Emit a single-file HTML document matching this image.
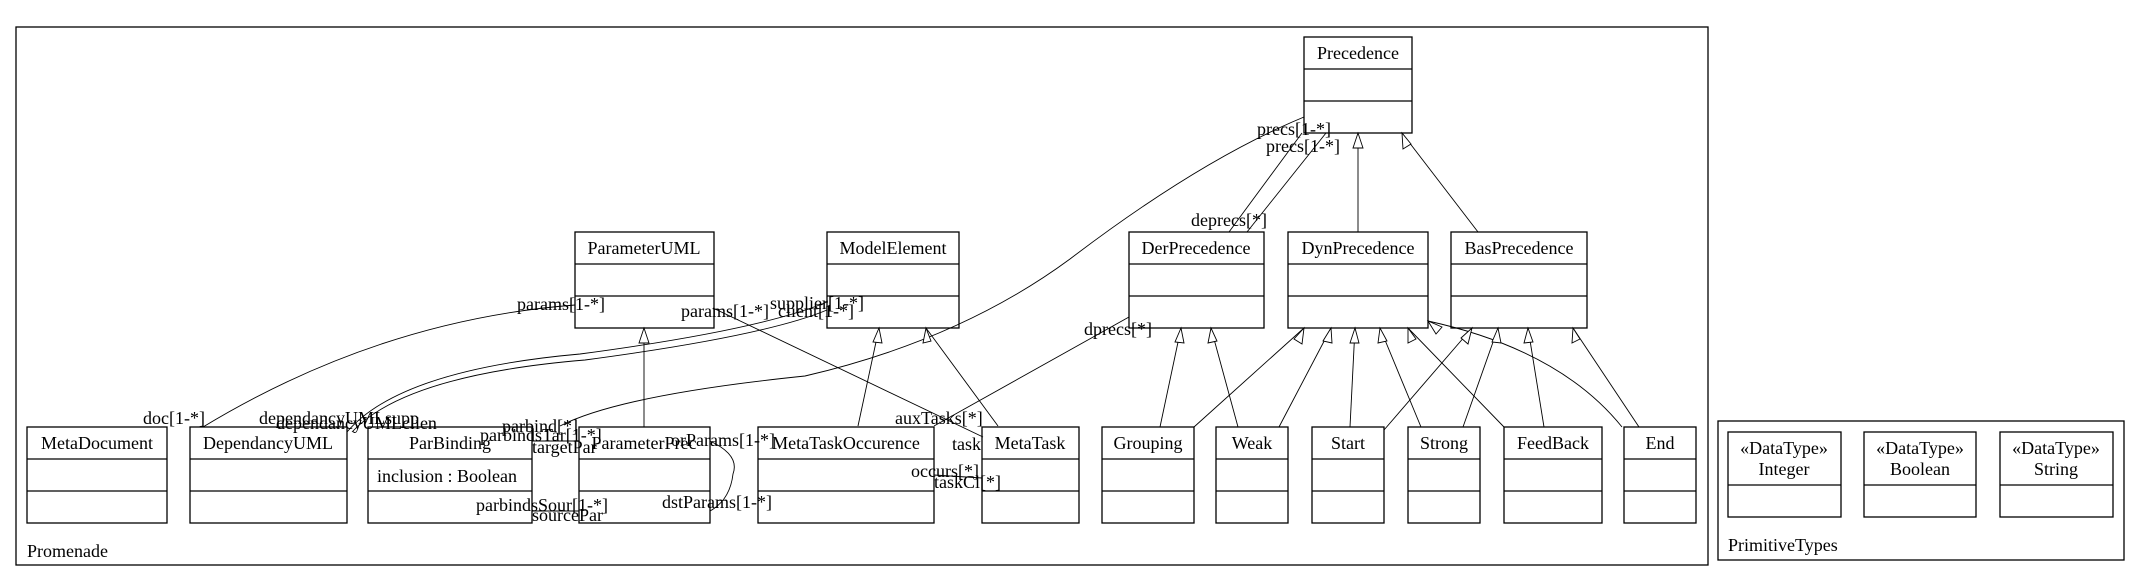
<!DOCTYPE html>
<html><head><meta charset="utf-8"><style>
html,body{margin:0;padding:0;background:#fff;}
svg{display:block;}
text{font-family:"Liberation Serif",serif;font-size:18px;fill:#000;}
</style></head><body>
<svg width="2139" height="581" viewBox="0 0 2139 581" xmlns="http://www.w3.org/2000/svg">
<g fill="none" stroke="#000" stroke-width="1.3">
<rect x="16" y="27" width="1692" height="538"/>
<rect x="1718" y="421" width="406" height="139"/>
<!-- classes bottom row -->
<rect x="27" y="427" width="140" height="96"/><line x1="27" y1="459" x2="167" y2="459"/><line x1="27" y1="491" x2="167" y2="491"/>
<rect x="190" y="427" width="157" height="96"/><line x1="190" y1="459" x2="347" y2="459"/><line x1="190" y1="491" x2="347" y2="491"/>
<rect x="368" y="427" width="164" height="96"/><line x1="368" y1="459" x2="532" y2="459"/><line x1="368" y1="491" x2="532" y2="491"/>
<rect x="579" y="427" width="131" height="96"/><line x1="579" y1="459" x2="710" y2="459"/><line x1="579" y1="491" x2="710" y2="491"/>
<rect x="758" y="427" width="176" height="96"/><line x1="758" y1="459" x2="934" y2="459"/><line x1="758" y1="491" x2="934" y2="491"/>
<rect x="982" y="427" width="97" height="96"/><line x1="982" y1="459" x2="1079" y2="459"/><line x1="982" y1="491" x2="1079" y2="491"/>
<rect x="1102" y="427" width="92" height="96"/><line x1="1102" y1="459" x2="1194" y2="459"/><line x1="1102" y1="491" x2="1194" y2="491"/>
<rect x="1216" y="427" width="72" height="96"/><line x1="1216" y1="459" x2="1288" y2="459"/><line x1="1216" y1="491" x2="1288" y2="491"/>
<rect x="1312" y="427" width="72" height="96"/><line x1="1312" y1="459" x2="1384" y2="459"/><line x1="1312" y1="491" x2="1384" y2="491"/>
<rect x="1408" y="427" width="72" height="96"/><line x1="1408" y1="459" x2="1480" y2="459"/><line x1="1408" y1="491" x2="1480" y2="491"/>
<rect x="1504" y="427" width="98" height="96"/><line x1="1504" y1="459" x2="1602" y2="459"/><line x1="1504" y1="491" x2="1602" y2="491"/>
<rect x="1624" y="427" width="72" height="96"/><line x1="1624" y1="459" x2="1696" y2="459"/><line x1="1624" y1="491" x2="1696" y2="491"/>
<!-- middle row -->
<rect x="575" y="232" width="139" height="96"/><line x1="575" y1="264" x2="714" y2="264"/><line x1="575" y1="296" x2="714" y2="296"/>
<rect x="827" y="232" width="132" height="96"/><line x1="827" y1="264" x2="959" y2="264"/><line x1="827" y1="296" x2="959" y2="296"/>
<rect x="1129" y="232" width="135" height="96"/><line x1="1129" y1="264" x2="1264" y2="264"/><line x1="1129" y1="296" x2="1264" y2="296"/>
<rect x="1288" y="232" width="140" height="96"/><line x1="1288" y1="264" x2="1428" y2="264"/><line x1="1288" y1="296" x2="1428" y2="296"/>
<rect x="1451" y="232" width="136" height="96"/><line x1="1451" y1="264" x2="1587" y2="264"/><line x1="1451" y1="296" x2="1587" y2="296"/>
<!-- top -->
<rect x="1304" y="37" width="108" height="96"/><line x1="1304" y1="69" x2="1412" y2="69"/><line x1="1304" y1="101" x2="1412" y2="101"/>
<!-- primitive types -->
<rect x="1728" y="432" width="113" height="85"/><line x1="1728" y1="485" x2="1841" y2="485"/>
<rect x="1864" y="432" width="112" height="85"/><line x1="1864" y1="485" x2="1976" y2="485"/>
<rect x="2000" y="432" width="113" height="85"/><line x1="2000" y1="485" x2="2113" y2="485"/>
</g>
<!-- connectors -->
<g fill="none" stroke="#000" stroke-width="0.9">
<path d="M203,427 Q380,320 575,305"/>
<path d="M347,432 Q400,370 580,354 Q760,330 827,302"/>
<path d="M352,432 Q405,375 585,360 Q765,336 827,310"/>
<path d="M560,426 Q620,395 805,376 Q960,340 1070,259 Q1200,160 1304,117"/>
<path d="M934,426 L1129,317"/>
<path d="M713,308 L983,437"/>
<line x1="644" y1="427" x2="644" y2="328"/>
<line x1="858" y1="426" x2="879" y2="328"/>
<line x1="998" y1="426" x2="926" y2="328"/>
<path d="M710,441 Q740,455 733,474 Q730,500 710,511"/>
<line x1="532" y1="441" x2="579" y2="441"/>
<line x1="532" y1="511" x2="579" y2="511"/>
<line x1="934" y1="475" x2="982" y2="478"/>
<line x1="1229" y1="232" x2="1302" y2="133"/>
<line x1="1247" y1="232" x2="1326" y2="133"/>
<line x1="1358" y1="232" x2="1358" y2="133"/>
<line x1="1478" y1="232" x2="1402" y2="133"/>
<line x1="1160" y1="427" x2="1181" y2="328"/>
<line x1="1194" y1="427" x2="1304" y2="328"/>
<line x1="1238" y1="427" x2="1211" y2="328"/>
<line x1="1279" y1="427" x2="1331" y2="328"/>
<line x1="1350" y1="427" x2="1355" y2="328"/>
<line x1="1384" y1="430" x2="1472" y2="328"/>
<line x1="1421" y1="427" x2="1380" y2="328"/>
<line x1="1463" y1="427" x2="1498" y2="328"/>
<line x1="1504" y1="427" x2="1408" y2="328"/>
<line x1="1544" y1="427" x2="1528" y2="328"/>
<path d="M1622,427 Q1560,350 1428,321"/>
<line x1="1639" y1="427" x2="1573" y2="328"/>
</g>
<!-- hollow triangles -->
<g fill="#fff" stroke="#000" stroke-width="0.9">
<polygon points="644,328 639,343 649,343"/>
<polygon points="879,328 873,342 882,343"/>
<polygon points="926,328 923,343 931,341"/>
<polygon points="1358,133 1353,148 1363,148"/>
<polygon points="1402,133 1403,149 1411,144"/>
<polygon points="1181,328 1175,342 1184,343"/>
<polygon points="1304,328 1294,339 1302,344"/>
<polygon points="1211,328 1208,343 1217,341"/>
<polygon points="1331,328 1323,341 1332,343"/>
<polygon points="1355,328 1350,343 1359,343"/>
<polygon points="1472,328 1461,338 1468,344"/>
<polygon points="1380,328 1378,343 1387,341"/>
<polygon points="1498,328 1492,342 1501,343"/>
<polygon points="1408,328 1408,343 1416,339"/>
<polygon points="1528,328 1524,343 1533,342"/>
<polygon points="1428,321 1436,334 1442,327"/>
<polygon points="1573,328 1572,343 1580,339"/>
</g>
<!-- class names -->
<g text-anchor="middle">
<text x="97" y="449">MetaDocument</text>
<text x="268" y="449">DependancyUML</text>
<text x="450" y="449">ParBinding</text>
<text x="644" y="449">ParameterPrec</text>
<text x="846" y="449">MetaTaskOccurence</text>
<text x="1030" y="449">MetaTask</text>
<text x="1148" y="449">Grouping</text>
<text x="1252" y="449">Weak</text>
<text x="1348" y="449">Start</text>
<text x="1444" y="449">Strong</text>
<text x="1553" y="449">FeedBack</text>
<text x="1660" y="449">End</text>
<text x="644" y="254">ParameterUML</text>
<text x="893" y="254">ModelElement</text>
<text x="1196" y="254">DerPrecedence</text>
<text x="1358" y="254">DynPrecedence</text>
<text x="1519" y="254">BasPrecedence</text>
<text x="1358" y="59">Precedence</text>
<text x="1784" y="454">«DataType»</text><text x="1784" y="475">Integer</text>
<text x="1920" y="454">«DataType»</text><text x="1920" y="475">Boolean</text>
<text x="2056" y="454">«DataType»</text><text x="2056" y="475">String</text>
</g>
<text x="377" y="482">inclusion : Boolean</text>
<text x="27" y="557">Promenade</text>
<text x="1728" y="551">PrimitiveTypes</text>
<!-- role labels -->
<text x="1257" y="135">precs[1-*]</text>
<text x="1266" y="152">precs[1-*]</text>
<text x="1191" y="226">deprecs[*]</text>
<text x="1084" y="335">dprecs[*]</text>
<text x="517" y="310">params[1-*]</text>
<text x="681" y="317">params[1-*]</text>
<text x="770" y="309">supplier[1-*]</text>
<text x="778" y="317">client[1-*]</text>
<text x="143" y="424">doc[1-*]</text>
<text x="259" y="424">dependancyUMLsupp</text>
<text x="276" y="429">dependancyUMLclien</text>
<text x="502" y="432">parbind[*]</text>
<text x="480" y="441">parbindsTar[1-*]</text>
<text x="532" y="453">targetPar</text>
<text x="671" y="446">orParams[1-*]</text>
<text x="895" y="424">auxTasks[*]</text>
<text x="952" y="450">task</text>
<text x="911" y="477">occurs[*]</text>
<text x="934" y="488">taskCl[*]</text>
<text x="476" y="511">parbindsSour[1-*]</text>
<text x="532" y="521">sourcePar</text>
<text x="662" y="508">dstParams[1-*]</text>
</svg>
</body></html>
